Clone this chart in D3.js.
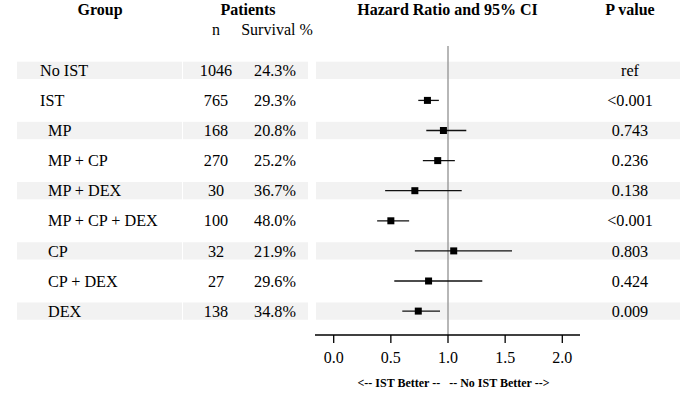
<!DOCTYPE html>
<html><head><meta charset="utf-8">
<script src="https://cdn.jsdelivr.net/npm/d3@7"></script>
<style>body{margin:0;background:#fff}svg{display:block}
svg text{font-family:"Liberation Serif","Times New Roman",Times,serif;}
</style>
</head><body><svg id="c" width="684" height="409"></svg>
<script>
const groups = ["No IST","IST","MP","MP + CP","MP + DEX","MP + CP + DEX","CP","CP + DEX","DEX"];
const indent = [false,false,true,true,true,true,true,true,true];
const nPatients = [1046,765,168,270,30,100,32,27,138];
const survival = ["24.3%","29.3%","20.8%","25.2%","36.7%","48.0%","21.9%","29.6%","34.8%"];
const hr    = [null,0.82,0.96,0.91,0.71,0.50,1.05,0.83,0.74];
const lower = [null,0.74,0.81,0.78,0.45,0.38,0.71,0.53,0.60];
const upper = [null,0.92,1.16,1.06,1.12,0.66,1.56,1.30,0.93];
const pValues = ["ref","<0.001","0.743","0.236","0.138","<0.001","0.803","0.424","0.009"];
const xTicks = [0,0.5,1,1.5,2];

const svg = d3.select("#c");
const x = d3.scaleLinear().domain([0,2]).range([333.7,562.3]);
const y = d3.scaleBand().domain(d3.range(groups.length)).range([55.25,326.15]);
const rc = i => y(i) + y.bandwidth()/2;
const bandH = 17.3;

// shaded bands
const bandSegs = [[17,182],[183,308],[316,680]];
groups.forEach((g,i)=>{
  if(i%2===0){
    bandSegs.forEach(s=>{
      svg.append("rect").attr("x",s[0]).attr("y",rc(i)-bandH/2).attr("width",s[1]-s[0]).attr("height",bandH).attr("fill","#f2f2f2");
    });
  }
});

// headers
const hdr = (t,xx,yy,bold)=>svg.append("text").attr("x",xx).attr("y",yy).attr("text-anchor","middle")
  .style("font-size","16px").style("font-weight",bold?"bold":"normal").attr("fill","#000").text(t);
hdr("Group",100,15,true);
hdr("Patients",248,15,true);
hdr("n",216,35,false);
hdr("Survival %",277,35,false);
hdr("Hazard Ratio and 95% CI",447.5,15,true);
hdr("P value",630,15,true);

// reference line
svg.append("line").attr("x1",x(1)).attr("x2",x(1)).attr("y1",46).attr("y2",335)
  .attr("stroke","#999").attr("stroke-width",1.4);

// table text
const row = svg.selectAll("g.row").data(groups).join("g").attr("class","row").attr("fill","#000");
const cell = sel => sel.style("font-size","16.2px").style("font-weight","normal");
cell(row.append("text").attr("x",(d,i)=>indent[i]?48:40).attr("y",(d,i)=>rc(i)).attr("dy","0.35em").text(d=>d));
cell(row.append("text").attr("x",216).attr("y",(d,i)=>rc(i)).attr("dy","0.35em").attr("text-anchor","middle").text((d,i)=>nPatients[i]));
cell(row.append("text").attr("x",275).attr("y",(d,i)=>rc(i)).attr("dy","0.35em").attr("text-anchor","middle").text((d,i)=>survival[i]));
cell(row.append("text").attr("x",630).attr("y",(d,i)=>rc(i)).attr("dy","0.35em").attr("text-anchor","middle").text((d,i)=>pValues[i]));

// CIs and squares
groups.forEach((g,i)=>{
  if(hr[i]==null) return;
  svg.append("line").attr("x1",x(lower[i])).attr("x2",x(upper[i])).attr("y1",rc(i)).attr("y2",rc(i))
    .attr("stroke","#111").attr("stroke-width",1.3);
  svg.append("rect").attr("x",x(hr[i])-3.5).attr("y",rc(i)-3.5).attr("width",7).attr("height",7).attr("fill","#000");
});

// axis
const ax = svg.append("g").attr("transform","translate(0,335)");
ax.append("line").attr("x1",315).attr("x2",580).attr("stroke","#000").attr("stroke-width",1.3);
ax.selectAll("line.t").data(xTicks).join("line").attr("class","t").attr("x1",d=>x(d)).attr("x2",d=>x(d))
  .attr("y1",0).attr("y2",8).attr("stroke","#000").attr("stroke-width",1.3);
ax.selectAll("text").data(xTicks).join("text").attr("x",d=>x(d)).attr("y",28).attr("text-anchor","middle")
  .style("font-size","16px").attr("fill","#000").text(d=>d3.format(".1f")(d));

svg.append("text").attr("x",453.5).attr("y",387).attr("text-anchor","middle")
  .style("font-size","12px").style("font-weight","bold").style("white-space","pre")
  .text("<-- IST Better --   -- No IST Better -->");
</script></body></html>
